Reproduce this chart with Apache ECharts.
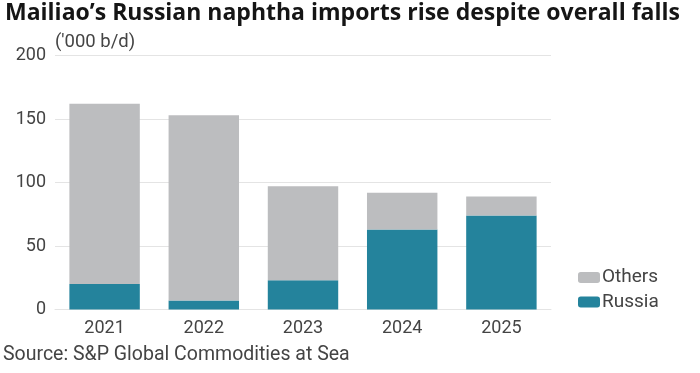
<!DOCTYPE html>
<html><head><meta charset="utf-8">
<script src="https://cdn.jsdelivr.net/npm/echarts@6/dist/echarts.min.js"></script>
<style>html,body{margin:0;padding:0;background:#fff}#c{width:700px;height:373px}</style>
</head><body><div id="c"></div>
<script>
const categories = ['2021','2022','2023','2024','2025'];
const russia = [20, 7, 23, 63, 74];
const others = [142, 146, 74, 29, 15];
const yTicks = [0, 50, 100, 150, 200];

const chart = echarts.init(document.getElementById('c'), null, {renderer:'canvas'});
const font = 'Roboto';
chart.setOption({
  animation:false,
  backgroundColor:'#fff',
  title:[
    {text:'Mailiao\u2019s Russian naphtha imports rise despite overall falls', left:0, top:-3,
     textStyle:{fontFamily:'Open Sans', fontSize:23, fontWeight:'bold', color:'#151515'}},
    {text:"('000 b/d)", left:50, top:28, textStyle:{fontFamily:font, fontSize:18.5, fontWeight:'normal', color:'#444'}},
    {text:'Source: S&P Global Commodities at Sea', left:-2, top:340, textStyle:{fontFamily:font, fontSize:19.5, fontWeight:'normal', color:'#444'}}
  ],
  legend:{
    orient:'vertical', left:573, top:263, itemWidth:22, itemHeight:11, itemGap:5.5,
    data:['Others','Russia'],
    textStyle:{fontFamily:font, fontSize:19, color:'#444', padding:[0,0,0,-3]}
  },
  grid:{left:55, right:149, top:55.5, bottom:63.5},
  xAxis:{
    type:'category', data:categories,
    axisLine:{show:true, lineStyle:{color:'#e4e4e4', width:1}},
    axisTick:{show:false},
    axisLabel:{fontFamily:font, fontSize:18, color:'#444', margin:10}
  },
  yAxis:{
    type:'value', min:0, max:200, interval:50,
    axisLine:{show:false}, axisTick:{show:false},
    splitLine:{lineStyle:{color:'#e4e4e4', width:1}},
    axisLabel:{fontFamily:font, fontSize:18, color:'#444', margin:9,
      formatter:v=>yTicks.includes(v)?String(v):''}
  },
  series:[
    {name:'Russia', type:'bar', stack:'t', data:russia, barWidth:'71%', itemStyle:{color:'#24839c'}},
    {name:'Others', type:'bar', stack:'t', data:others, barWidth:'71%', itemStyle:{color:'#bcbdbf'}}
  ]
});
</script></body></html>
